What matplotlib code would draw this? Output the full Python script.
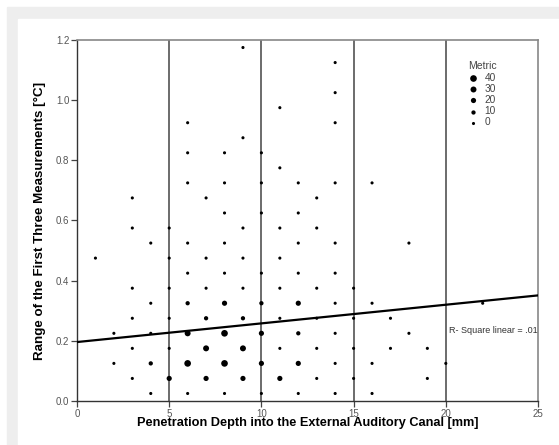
import matplotlib.pyplot as plt
from matplotlib.patches import Rectangle
import numpy as np

# penetration depth [mm], range [°C], metric (marker size)
depth = [1, 2, 2,
         3, 3, 3, 3, 3, 3,
         4, 4, 4, 4, 4,
         5, 5, 5, 5, 5, 5,
         6, 6, 6, 6, 6, 6, 6, 6, 6,
         7, 7, 7, 7, 7, 7,
         8, 8, 8, 8, 8, 8, 8, 8, 8,
         9, 9, 9, 9, 9, 9, 9, 9,
         10, 10, 10, 10, 10, 10, 10, 10,
         11, 11, 11, 11, 11, 11, 11, 11,
         12, 12, 12, 12, 12, 12, 12, 12,
         13, 13, 13, 13, 13, 13,
         14, 14, 14, 14, 14, 14, 14, 14, 14, 14,
         15, 15, 15, 15,
         16, 16, 16, 16,
         17, 17, 18, 18, 19, 19, 20, 22]
rng = [0.475, 0.225, 0.125,
       0.675, 0.575, 0.375, 0.275, 0.175, 0.075,
       0.525, 0.325, 0.225, 0.125, 0.025,
       0.575, 0.475, 0.375, 0.275, 0.175, 0.075,
       0.925, 0.825, 0.725, 0.525, 0.425, 0.325, 0.225, 0.125, 0.025,
       0.675, 0.475, 0.375, 0.275, 0.175, 0.075,
       0.825, 0.725, 0.625, 0.525, 0.425, 0.325, 0.225, 0.125, 0.025,
       1.175, 0.875, 0.575, 0.475, 0.375, 0.275, 0.175, 0.075,
       0.825, 0.725, 0.625, 0.425, 0.325, 0.225, 0.125, 0.025,
       0.975, 0.775, 0.575, 0.475, 0.375, 0.275, 0.175, 0.075,
       0.725, 0.625, 0.525, 0.425, 0.325, 0.225, 0.125, 0.025,
       0.675, 0.575, 0.375, 0.275, 0.175, 0.075,
       1.125, 1.025, 0.925, 0.725, 0.525, 0.425, 0.325, 0.225, 0.125, 0.025,
       0.375, 0.275, 0.175, 0.075,
       0.725, 0.325, 0.125, 0.025,
       0.275, 0.175, 0.525, 0.225, 0.175, 0.075, 0.125, 0.325]
metric = [0, 0, 0,
          0, 0, 0, 0, 0, 0,
          0, 0, 0, 10, 0,
          0, 0, 0, 0, 0, 20,
          0, 0, 0, 0, 0, 10, 30, 40, 0,
          0, 0, 0, 10, 30, 20,
          0, 0, 0, 0, 0, 20, 40, 40, 0,
          0, 0, 0, 0, 0, 10, 30, 20,
          0, 0, 0, 0, 10, 20, 20, 0,
          0, 0, 0, 0, 0, 0, 0, 20,
          0, 0, 0, 0, 20, 10, 20, 0,
          0, 0, 0, 0, 0, 0,
          0, 0, 0, 0, 0, 0, 0, 0, 0, 0,
          0, 0, 0, 0,
          0, 0, 0, 0,
          0, 0, 0, 0, 0, 0, 0, 0]
legend_vals = [40, 30, 20, 10, 0]
fit_a, fit_b = 0.196, 0.0062


def msize(m):
    return 5 + 0.45 * np.asarray(m)


plt.rcParams['font.family'] = ['Liberation Sans', 'DejaVu Sans']

fig = plt.figure(figsize=(5.59, 4.45), dpi=100)
fig.patches.append(Rectangle((7 / 559, 0), 1, 1 - 7 / 445, transform=fig.transFigure,
                             color='#eeeeee', zorder=-10))
fig.patches.append(Rectangle((18 / 559, 0), 1, 1 - 19 / 445, transform=fig.transFigure,
                             color='white', zorder=-9))

ax = fig.add_axes([77 / 559, 1 - 401 / 445, 461 / 559, 361 / 445])
ax.set_facecolor('none')

for xv in [5, 10, 15, 20]:
    ax.axvline(xv, color='#444444', lw=1.1, zorder=1)

ax.scatter(depth, rng, s=msize(metric), color='black', zorder=3, linewidths=0)

xs = np.array([0, 25])
ax.plot(xs, fit_a + fit_b * xs, color='black', lw=1.6, zorder=4)
ax.text(20.2, 0.236, 'R- Square linear = .01', fontsize=6.5, color='#333333',
        va='center', ha='left')

ax.set_xlim(0, 25)
ax.set_ylim(0, 1.2)
ax.set_xticks([0, 5, 10, 15, 20, 25])
ax.set_yticks([0, 0.2, 0.4, 0.6, 0.8, 1.0, 1.2])
ax.set_yticklabels(['0.0', '0.2', '0.4', '0.6', '0.8', '1.0', '1.2'])
ax.tick_params(axis='both', labelsize=7, labelcolor='#555555', color='#444444',
               length=4, width=0.9, pad=1.5)

for side in ['left', 'bottom']:
    ax.spines[side].set_color('#333333')
    ax.spines[side].set_linewidth(1.0)
for side in ['top', 'right']:
    ax.spines[side].set_color('#888888')
    ax.spines[side].set_linewidth(1.2)

ax.set_xlabel('Penetration Depth into the External Auditory Canal [mm]',
              fontsize=9.2, fontweight='bold', labelpad=-1)
ax.set_ylabel('Range of the First Three Measurements [°C]',
              fontsize=9.6, fontweight='bold', labelpad=7)

handles = [ax.scatter([], [], s=msize(v), color='black', linewidths=0) for v in legend_vals]
leg = ax.legend(handles, [str(v) for v in legend_vals], title='Metric', loc='upper left',
                bbox_to_anchor=(0.838, 0.955), frameon=False, fontsize=7.3,
                title_fontsize=7.5, labelspacing=0.12, handletextpad=0.6,
                handlelength=1.0, borderpad=0, scatterpoints=1)
leg._legend_box.align = 'left'
for t in leg.get_texts():
    t.set_color('#444444')
leg.get_title().set_color('#444444')

fig.savefig('out.png', dpi=100)
